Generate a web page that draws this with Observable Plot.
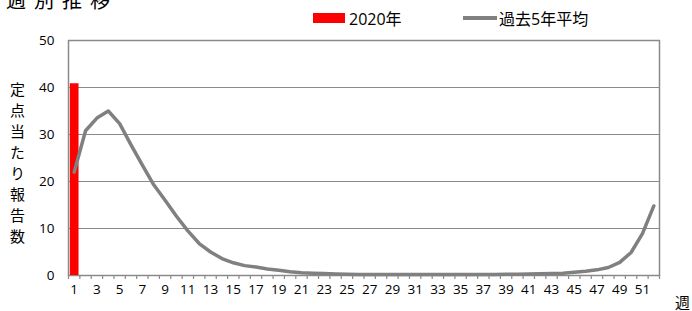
<!DOCTYPE html>
<html><head><meta charset="utf-8">
<script src="https://cdn.jsdelivr.net/npm/d3@7"></script>
<script src="https://cdn.jsdelivr.net/npm/@observablehq/plot@0.6"></script>
<style>
body{margin:0;background:#fff;}
#wrap{position:relative;width:692px;height:311px;overflow:hidden;font-family:"Open Sans","Noto Sans CJK JP",sans-serif;color:#000;}
.ov{position:absolute;white-space:nowrap;}
</style></head>
<body><div id="wrap"></div>
<script>
const weeks = d3.range(1, 53);
const current2020 = [{week: 1, value: 40.8}];
const avg5 = [22, 30.8, 33.5, 35, 32.3, 27.8, 23.5, 19.3, 16, 12.6, 9.5, 6.8, 5, 3.6, 2.7, 2.1, 1.8, 1.4, 1.1, 0.8,
  0.6, 0.5, 0.4, 0.3, 0.25, 0.2, 0.2, 0.2, 0.2, 0.2, 0.2, 0.2, 0.2, 0.2, 0.2, 0.2, 0.2, 0.2, 0.25, 0.25,
  0.3, 0.35, 0.4, 0.5, 0.7, 0.9, 1.2, 1.7, 2.8, 4.9, 8.9, 14.8];
const xLabelWeeks = d3.range(1, 53, 2);
const yTicks = [0, 10, 20, 30, 40, 50];
const gridTicks = [10, 20, 30, 40];
const tickBounds = d3.range(0.5, 53, 1);
const avgData = weeks.map((w, i) => ({week: w, value: avg5[i]}));

const gray = "#8a8a8a";
const chart = Plot.plot({
  width: 692, height: 311,
  marginTop: 40, marginBottom: 36, marginLeft: 68, marginRight: 33,
  style: {fontFamily: '"Open Sans","Noto Sans CJK JP",sans-serif', fontSize: "13.5px", color: "#000", background: "#fff"},
  x: {type: "linear", domain: [0.5, 52.5], label: null},
  y: {domain: [0, 50], label: null},
  marks: [
    Plot.ruleY(gridTicks, {stroke: gray, strokeWidth: 1.2}),
    Plot.frame({stroke: gray, strokeWidth: 1.5}),
    Plot.axisX({ticks: tickBounds, tickSize: 4, tickFormat: () => "", label: null, stroke: gray, strokeWidth: 1.2, strokeOpacity: 1}),
    Plot.axisX({ticks: xLabelWeeks, tickSize: 0, tickPadding: 9, tickFormat: d => String(d), label: null, fill: "#000"}),
    Plot.axisY({ticks: yTicks, tickSize: 0, tickPadding: 14, label: null, fill: "#000"}),
    Plot.ruleX(current2020, {x: "week", y1: 0, y2: "value", stroke: "#ff0000", strokeWidth: 8.7}),
    Plot.line(avgData, {x: "week", y: "value", stroke: "#808080", strokeWidth: 3.5, strokeLinejoin: "round"})
  ]
});
const wrap = document.getElementById("wrap");
wrap.appendChild(chart);
function ov(html, css){const d=document.createElement("div");d.className="ov";d.innerHTML=html;d.style.cssText+=css;wrap.appendChild(d);}
ov("週別推移", "left:6px;top:-15px;font-size:20px;letter-spacing:8px;");
ov("", "left:313px;top:13px;width:32px;height:10px;background:#ff0000;");
ov("2020年", "left:349px;top:6px;font-size:16px;");
ov("", "left:463px;top:16px;width:34px;height:3.5px;background:#808080;");
ov("過去5年平均", "left:499px;top:6px;font-size:16px;");
ov("定点当たり報告数", "left:7px;top:82px;font-size:15px;writing-mode:vertical-rl;letter-spacing:6px;");
ov("週", "left:675px;top:291px;font-size:15px;");
</script></body></html>
